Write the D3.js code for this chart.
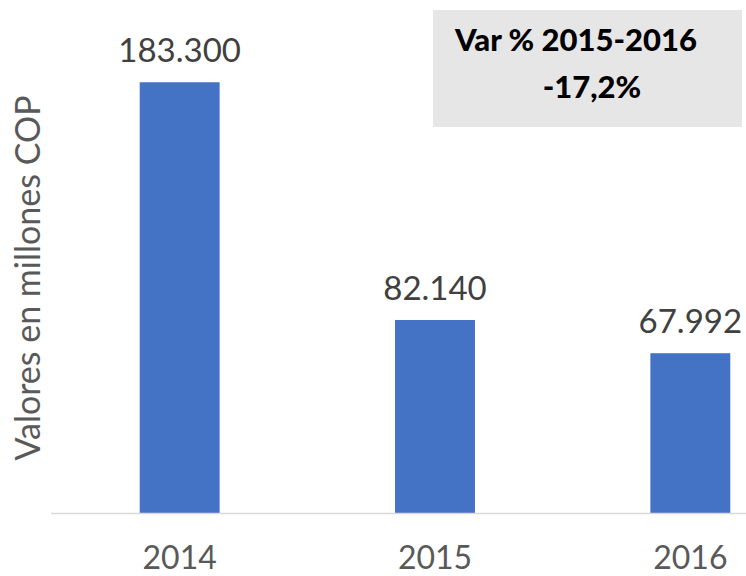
<!DOCTYPE html>
<html>
<head>
<meta charset="utf-8">
<script src="https://cdn.jsdelivr.net/npm/d3@7"></script>
<style>
  body { margin: 0; background: #fff; }
  text { font-family: Lato, "Open Sans", sans-serif; }
</style>
</head>
<body>
<div id="plot"></div>
<script>
const years = ['2014', '2015', '2016'];
const values = [183300, 82140, 67992];
const boxLines = ['Var % 2015-2016', '-17,2%'];
const yTitle = 'Valores en millones COP';

const width = 746;
const height = 576;
const baseY = 513;

const fmt = d3.formatLocale({decimal: ',', thousands: '.', grouping: [3], currency: ['$', '']}).format(',d');

const svg = d3.select('#plot')
    .append('svg')
    .attr('width', width)
    .attr('height', height);

const x = d3.scaleBand()
    .domain(years)
    .range([52, 818])
    .paddingInner(0.687)
    .paddingOuter(0.3435);

const y = d3.scaleLinear()
    .domain([0, 200000])
    .range([baseY, 43]);

const data = years.map((yr, i) => ({year: yr, value: values[i]}));

// bars
svg.selectAll('rect.bar')
    .data(data)
    .enter().append('rect')
    .attr('class', 'bar')
    .attr('x', d => x(d.year))
    .attr('y', d => y(d.value))
    .attr('width', x.bandwidth())
    .attr('height', d => baseY - y(d.value))
    .attr('fill', '#4472c4');

// baseline
svg.append('line')
    .attr('x1', 51).attr('x2', width)
    .attr('y1', baseY + 0.5).attr('y2', baseY + 0.5)
    .attr('stroke', '#d9d9d9')
    .attr('stroke-width', 1.5);

// value labels
svg.selectAll('text.val')
    .data(data)
    .enter().append('text')
    .attr('class', 'val')
    .attr('x', d => x(d.year) + x.bandwidth() / 2)
    .attr('y', d => y(d.value) - 20)
    .attr('text-anchor', 'middle')
    .attr('font-size', '33px')
    .attr('fill', '#404040')
    .text(d => fmt(d.value));

// category labels
svg.selectAll('text.cat')
    .data(years)
    .enter().append('text')
    .attr('class', 'cat')
    .attr('x', d => x(d) + x.bandwidth() / 2)
    .attr('y', 569)
    .attr('text-anchor', 'middle')
    .attr('font-size', '32px')
    .attr('fill', '#595959')
    .text(d => d);

// y axis title
svg.append('text')
    .attr('transform', `translate(40,278) rotate(-90)`)
    .attr('text-anchor', 'middle')
    .attr('font-size', '34px')
    .attr('fill', '#595959')
    .text(yTitle);

// annotation box
svg.append('rect')
    .attr('x', 433).attr('y', 10)
    .attr('width', 309).attr('height', 117)
    .attr('fill', '#e7e6e6');

svg.selectAll('text.box')
    .data(boxLines)
    .enter().append('text')
    .attr('class', 'box')
    .attr('x', (d, i) => i === 0 ? 576 : 592)
    .attr('y', (d, i) => i === 0 ? 51 : 98)
    .attr('text-anchor', 'middle')
    .attr('font-size', '31px')
    .attr('font-weight', 900)
    .attr('fill', '#000')
    .text(d => d);
</script>
</body>
</html>
